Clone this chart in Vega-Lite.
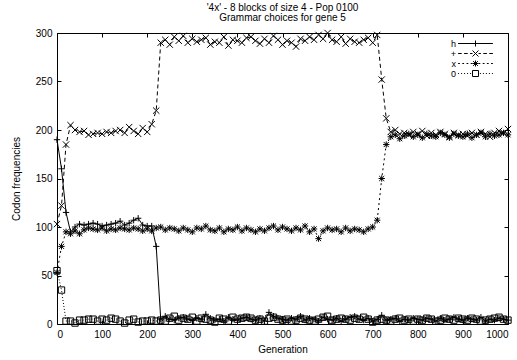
{
  "$schema": "https://vega.github.io/schema/vega-lite/v6.json",
  "width": 451,
  "height": 291,
  "autosize": {"type": "none"},
  "padding": {"left": 57, "top": 33, "right": 9, "bottom": 36},
  "background": "white",
  "title": {
    "text": ["'4x' - 8 blocks of size 4 - Pop 0100", "Grammar choices for gene 5"],
    "fontSize": 10,
    "fontWeight": "normal",
    "font": "Liberation Sans",
    "lineHeight": 10,
    "offset": 5,
    "anchor": "middle",
    "color": "black"
  },
  "config": {
    "font": "Liberation Sans",
    "view": {"stroke": "black", "strokeWidth": 1},
    "axis": {
      "grid": false,
      "domain": false,
      "tickColor": "black",
      "tickWidth": 1,
      "labelFontSize": 10,
      "labelColor": "black",
      "titleFontSize": 10,
      "titleFontWeight": "normal",
      "titleColor": "black"
    }
  },
  "data": {
    "values": [
      {"g":0,"h":190,"+":103,"x":53,"0":55},
      {"g":10,"h":160,"+":122,"x":80,"0":35},
      {"g":20,"h":115,"+":185,"x":95,"0":3},
      {"g":30,"h":95,"+":205,"x":93,"0":3},
      {"g":40,"h":100,"+":200,"x":96,"0":1},
      {"g":50,"h":103,"+":198,"x":93,"0":4},
      {"g":60,"h":102,"+":199,"x":97,"0":4},
      {"g":70,"h":103,"+":195,"x":99,"0":5},
      {"g":80,"h":104,"+":196,"x":98,"0":5},
      {"g":90,"h":103,"+":197,"x":97,"0":3},
      {"g":100,"h":101,"+":196,"x":99,"0":5},
      {"g":110,"h":102,"+":198,"x":96,"0":4},
      {"g":120,"h":103,"+":197,"x":98,"0":6},
      {"g":130,"h":104,"+":199,"x":97,"0":5},
      {"g":140,"h":106,"+":200,"x":99,"0":3},
      {"g":150,"h":102,"+":197,"x":98,"0":1},
      {"g":160,"h":104,"+":203,"x":97,"0":4},
      {"g":170,"h":107,"+":199,"x":99,"0":5},
      {"g":180,"h":109,"+":196,"x":98,"0":2},
      {"g":190,"h":102,"+":202,"x":96,"0":3},
      {"g":200,"h":101,"+":198,"x":98,"0":3},
      {"g":210,"h":101,"+":206,"x":96,"0":4},
      {"g":220,"h":80,"+":220,"x":99,"0":3},
      {"g":230,"h":5,"+":290,"x":100,"0":4},
      {"g":240,"h":8,"+":293,"x":97,"0":3},
      {"g":250,"h":5,"+":288,"x":99,"0":6},
      {"g":260,"h":4,"+":296,"x":98,"0":8},
      {"g":270,"h":6,"+":292,"x":96,"0":4},
      {"g":280,"h":7,"+":297,"x":99,"0":6},
      {"g":290,"h":5,"+":290,"x":97,"0":5},
      {"g":300,"h":4,"+":294,"x":95,"0":7},
      {"g":310,"h":6,"+":291,"x":99,"0":3},
      {"g":320,"h":5,"+":293,"x":98,"0":6},
      {"g":330,"h":10,"+":295,"x":101,"0":5},
      {"g":340,"h":6,"+":288,"x":97,"0":4},
      {"g":350,"h":4,"+":291,"x":96,"0":2},
      {"g":360,"h":5,"+":290,"x":99,"0":6},
      {"g":370,"h":3,"+":296,"x":95,"0":5},
      {"g":380,"h":7,"+":287,"x":98,"0":3},
      {"g":390,"h":5,"+":293,"x":97,"0":7},
      {"g":400,"h":4,"+":292,"x":100,"0":5},
      {"g":410,"h":6,"+":290,"x":96,"0":6},
      {"g":420,"h":7,"+":295,"x":99,"0":7},
      {"g":430,"h":5,"+":296,"x":97,"0":6},
      {"g":440,"h":4,"+":292,"x":95,"0":4},
      {"g":450,"h":6,"+":289,"x":98,"0":5},
      {"g":460,"h":3,"+":294,"x":96,"0":3},
      {"g":470,"h":12,"+":290,"x":99,"0":6},
      {"g":480,"h":8,"+":297,"x":101,"0":7},
      {"g":490,"h":6,"+":293,"x":97,"0":5},
      {"g":500,"h":5,"+":288,"x":100,"0":4},
      {"g":510,"h":4,"+":292,"x":98,"0":5},
      {"g":520,"h":6,"+":290,"x":96,"0":3},
      {"g":530,"h":5,"+":286,"x":99,"0":4},
      {"g":540,"h":8,"+":294,"x":97,"0":6},
      {"g":550,"h":4,"+":292,"x":101,"0":5},
      {"g":560,"h":6,"+":296,"x":95,"0":4},
      {"g":570,"h":5,"+":293,"x":98,"0":3},
      {"g":580,"h":3,"+":298,"x":88,"0":5},
      {"g":590,"h":7,"+":294,"x":96,"0":7},
      {"g":600,"h":5,"+":300,"x":99,"0":8},
      {"g":610,"h":4,"+":293,"x":97,"0":4},
      {"g":620,"h":6,"+":291,"x":98,"0":5},
      {"g":630,"h":3,"+":296,"x":95,"0":6},
      {"g":640,"h":5,"+":289,"x":99,"0":5},
      {"g":650,"h":7,"+":294,"x":96,"0":4},
      {"g":660,"h":8,"+":291,"x":98,"0":6},
      {"g":670,"h":5,"+":290,"x":97,"0":5},
      {"g":680,"h":4,"+":293,"x":95,"0":7},
      {"g":690,"h":6,"+":295,"x":98,"0":5},
      {"g":700,"h":3,"+":290,"x":100,"0":2},
      {"g":710,"h":5,"+":298,"x":107,"0":4},
      {"g":720,"h":9,"+":252,"x":150,"0":5},
      {"g":730,"h":4,"+":212,"x":185,"0":4},
      {"g":740,"h":5,"+":198,"x":193,"0":3},
      {"g":750,"h":6,"+":200,"x":195,"0":5},
      {"g":760,"h":3,"+":196,"x":191,"0":6},
      {"g":770,"h":5,"+":197,"x":194,"0":4},
      {"g":780,"h":4,"+":195,"x":196,"0":5},
      {"g":790,"h":6,"+":198,"x":193,"0":3},
      {"g":800,"h":5,"+":196,"x":195,"0":5},
      {"g":810,"h":4,"+":199,"x":192,"0":4},
      {"g":820,"h":6,"+":194,"x":196,"0":6},
      {"g":830,"h":5,"+":197,"x":194,"0":5},
      {"g":840,"h":3,"+":195,"x":193,"0":3},
      {"g":850,"h":6,"+":198,"x":197,"0":4},
      {"g":860,"h":4,"+":196,"x":195,"0":6},
      {"g":870,"h":5,"+":193,"x":192,"0":5},
      {"g":880,"h":7,"+":197,"x":196,"0":4},
      {"g":890,"h":5,"+":195,"x":194,"0":6},
      {"g":900,"h":4,"+":196,"x":193,"0":5},
      {"g":910,"h":6,"+":194,"x":196,"0":4},
      {"g":920,"h":5,"+":197,"x":192,"0":6},
      {"g":930,"h":4,"+":195,"x":195,"0":5},
      {"g":940,"h":7,"+":198,"x":197,"0":3},
      {"g":950,"h":3,"+":196,"x":193,"0":4},
      {"g":960,"h":5,"+":193,"x":196,"0":5},
      {"g":970,"h":4,"+":197,"x":194,"0":6},
      {"g":980,"h":6,"+":199,"x":195,"0":7},
      {"g":990,"h":5,"+":197,"x":197,"0":5},
      {"g":1000,"h":4,"+":201,"x":195,"0":4}
    ]
  },
  "transform": [{"fold": ["h", "+", "x", "0"], "as": ["s", "v"]}],
  "layer": [
    {
      "transform": [{"filter": "datum.s === 'h'"}],
      "mark": {"type": "line", "color": "black", "strokeWidth": 1},
      "encoding": {
        "x": {
          "field": "g", "type": "quantitative",
          "scale": {"domain": [0, 1000], "nice": false},
          "axis": {"title": "Generation", "format": "d", "values": [0,100,200,300,400,500,600,700,800,900,1000], "tickSize": -4, "labelPadding": 9, "titlePadding": 5}
        },
        "y": {
          "field": "v", "type": "quantitative",
          "scale": {"domain": [0, 300], "nice": false},
          "axis": {"title": "Codon frequencies", "values": [0,50,100,150,200,250,300], "tickSize": -4, "labelPadding": 9, "titlePadding": 14}
        }
      }
    },
    {
      "transform": [{"filter": "datum.s === '+'"}],
      "mark": {"type": "line", "color": "black", "strokeWidth": 1, "strokeDash": [4, 3]},
      "encoding": {
        "x": {"field": "g", "type": "quantitative", "axis": null},
        "y": {"field": "v", "type": "quantitative", "axis": null}
      }
    },
    {
      "transform": [{"filter": "datum.s === 'x'"}],
      "mark": {"type": "line", "color": "black", "strokeWidth": 1, "strokeDash": [2, 3]},
      "encoding": {
        "x": {"field": "g", "type": "quantitative", "axis": null},
        "y": {"field": "v", "type": "quantitative", "axis": null}
      }
    },
    {
      "transform": [{"filter": "datum.s === '0'"}],
      "mark": {"type": "line", "color": "black", "strokeWidth": 1, "strokeDash": [1, 2]},
      "encoding": {
        "x": {"field": "g", "type": "quantitative", "axis": null},
        "y": {"field": "v", "type": "quantitative", "axis": null}
      }
    },
    {
      "mark": {"type": "point", "filled": false, "color": "black", "strokeWidth": 1, "opacity": 1, "size": 40},
      "encoding": {
        "x": {
          "field": "g", "type": "quantitative",
          "axis": {"orient": "top", "title": null, "labels": false, "values": [0,100,200,300,400,500,600,700,800,900,1000], "tickSize": -4}
        },
        "y": {
          "field": "v", "type": "quantitative",
          "axis": {"orient": "right", "title": null, "labels": false, "values": [0,50,100,150,200,250,300], "tickSize": -4}
        },
        "shape": {
          "field": "s", "type": "nominal",
          "scale": {
            "domain": ["h", "+", "x", "0"],
            "range": [
              "M-1,0L1,0M0,-1L0,1",
              "M-1,-1L1,1M-1,1L1,-1",
              "M-1,0L1,0M0,-1L0,1M-0.8,-0.8L0.8,0.8M-0.8,0.8L0.8,-0.8",
              "M-1,-1L1,-1L1,1L-1,1Z"
            ]
          },
          "legend": null
        }
      }
    },
    {
      "transform": [{"filter": "false"}],
      "mark": {"type": "point", "filled": false, "color": "black", "strokeWidth": 1, "opacity": 1, "size": 36},
      "encoding": {
        "x": {"field": "g", "type": "quantitative", "axis": null},
        "y": {"field": "v", "type": "quantitative", "axis": null},
        "shape": {
          "field": "s", "type": "nominal",
          "scale": {
            "domain": ["h", "+", "x", "0"],
            "range": [
              "M-5.8,0L5.8,0M0,-1L0,1M8.1,0",
              "M-5.8,0L-4.6,0M-3.8,0L-2.6,0M-1.8,0L-1,0M1,0L1.8,0M2.6,0L3.8,0M4.6,0L5.8,0M-1,-1L1,1M-1,1L1,-1M8.1,0",
              "M-5.8,0L-5.2,0M-4.4,0L-3.8,0M-3,0L-2.4,0M-1.6,0L-1,0M1,0L1.6,0M2.4,0L3,0M3.8,0L4.4,0M5.2,0L5.8,0M-1,0L1,0M0,-1L0,1M-0.8,-0.8L0.8,0.8M-0.8,0.8L0.8,-0.8M8.1,0",
              "M-5.8,0L-5.47,0M-4.8,0L-4.47,0M-3.8,0L-3.47,0M-2.8,0L-2.47,0M-1.8,0L-1.47,0M1.47,0L1.8,0M2.47,0L2.8,0M3.47,0L3.8,0M4.47,0L4.8,0M5.47,0L5.8,0M-1,-1L1,-1L1,1L-1,1ZM8.1,0"
            ]
          },
          "legend": {
            "title": null,
            "orient": "top-right",
            "offset": 6,
            "padding": 0,
            "rowPadding": -6,
            "symbolSize": 36,
            "symbolStrokeWidth": 1,
            "symbolStrokeColor": "black",
            "symbolFillColor": "transparent",
            "symbolOpacity": 1,
            "labelFontSize": 9,
            "labelColor": "black",
            "labelAlign": "right",
            "labelOffset": -24
          }
        }
      }
    }
  ],
  "resolve": {
    "axis": {"x": "independent", "y": "independent"},
    "scale": {"shape": "independent"},
    "legend": {"shape": "independent"}
  }
}
